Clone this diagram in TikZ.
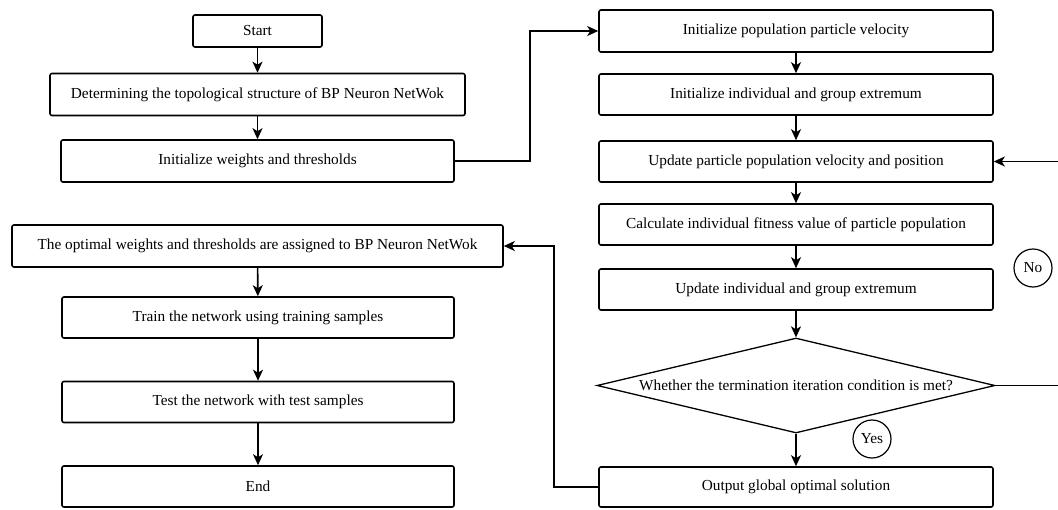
\documentclass[tikz,border=0pt]{standalone}
\usepackage{fontspec}
\setmainfont{Liberation Serif}
\usetikzlibrary{arrows.meta,shapes.geometric}
\begin{document}
\begin{tikzpicture}[x=1pt,y=-1pt,
  every node/.style={font=\fontsize{15.3}{18}\selectfont},
  box/.style={draw, line width=1.6pt, rounded corners=2pt, minimum height=42pt, inner sep=0pt},
  dec/.style={draw, line width=1.3pt, diamond, aspect=4.19, minimum width=398pt, minimum height=95pt, inner sep=0pt},
  lbl/.style={draw, line width=1.2pt, circle, minimum size=38pt, inner sep=0pt},
  arr/.style={line width=1.6pt, -{Stealth[length=11pt,width=10pt,inset=3pt]}},
  ln/.style={line width=1.6pt}]
\clip (0,0) rectangle (1058,509);
\useasboundingbox (0,0) rectangle (1058,509);
% left column
\node[box, minimum width=129pt, minimum height=32pt] (start) at (257.5,31) {Start};
\node[box, minimum width=415pt] (topo) at (257.5,94.5) {Determining the topological structure of BP Neuron NetWok};
\node[box, minimum width=393pt] (initw) at (257.5,161) {Initialize weights and thresholds};
\node[box, minimum width=491pt] (opt) at (257.5,246) {The optimal weights and thresholds are assigned to BP Neuron NetWok};
\node[box, minimum width=392pt, minimum height=41pt] (train) at (258,317.5) {Train the network using training samples};
\node[box, minimum width=392pt, minimum height=41pt] (test) at (258,402) {Test the network with test samples};
\node[box, minimum width=392pt, minimum height=41pt] (end) at (258,486.5) {End};
% right column
\node[box, minimum width=394pt] (initv) at (796,31) {Initialize population particle velocity};
\node[box, minimum width=394pt, minimum height=41pt] (initx) at (796,94.5) {Initialize individual and group extremum};
\node[box, minimum width=394pt, minimum height=41pt] (upd) at (796,161.5) {Update particle population velocity and position};
\node[box, minimum width=394pt, minimum height=41pt] (calc) at (796,224.5) {Calculate individual fitness value of particle population};
\node[box, minimum width=394pt, minimum height=41pt] (updx) at (796,289.5) {Update individual and group extremum};
\node[dec] (cond) at (796,385.5) {Whether the termination iteration condition is met?};
\node[box, minimum width=394pt, minimum height=40pt] (out) at (796,487) {Output global optimal solution};
\node[lbl] (yes) at (872,439) {Yes};
\node[lbl] (no) at (1033,268) {No};
\coordinate (a1) at (530,161);
\coordinate (a2) at (530,31);
\coordinate (b1) at (554,487);
\coordinate (b2) at (554,246);
\coordinate (c1) at (1066,385.5);
\coordinate (c2) at (1066,161.5);
% arrows
\draw[arr] (start) -- (topo);
\draw[arr] (topo) -- (initw);
\draw[arr] (initw.east) -- (a1) -- (a2) -- (initv.west);
\draw[arr] (initv) -- (initx);
\draw[arr] (initx) -- (upd);
\draw[arr] (upd) -- (calc);
\draw[arr] (calc) -- (updx);
\draw[arr] (updx) -- (cond);
\draw[arr] (cond) -- (out);
\draw[arr] (cond.east) -- (c1) -- (c2) -- (upd.east);
\draw[arr] (out.west) -- (b1) -- (b2) -- (opt.east);
\draw[arr] (opt) -- (train);
\draw[arr] (train) -- (test);
\draw[arr] (test) -- (end);
\end{tikzpicture}
\end{document}
